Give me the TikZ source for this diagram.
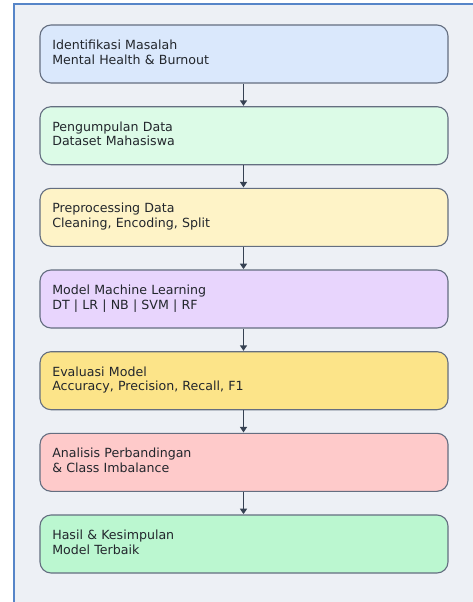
\documentclass[tikz,border=0pt]{standalone}
\usepackage{fontspec}
\setmainfont{DejaVu Sans}
\usetikzlibrary{arrows.meta}
\definecolor{pagebg}{HTML}{EDF0F5}
\definecolor{framecol}{HTML}{5685C8}
\definecolor{edgecol}{HTML}{646E80}
\definecolor{arrowcol}{HTML}{364152}
\definecolor{textcol}{HTML}{22262C}
\definecolor{cBlue}{HTML}{DAE8FC}
\definecolor{cMint}{HTML}{DCFBE7}
\definecolor{cCream}{HTML}{FEF3C7}
\definecolor{cLilac}{HTML}{E8D5FD}
\definecolor{cGold}{HTML}{FCE489}
\definecolor{cRose}{HTML}{FECACA}
\definecolor{cGreen}{HTML}{BBF7D0}
\tikzset{
  stage/.style={draw=edgecol, line width=1.1pt, rounded corners=11pt,
    minimum width=408pt, minimum height=58pt, inner xsep=12.3pt, inner ysep=0pt,
    text width=383.4pt, align=left, text=textcol,
    font=\fontsize{12.6}{14.7}\selectfont},
  flow/.style={draw=arrowcol, line width=1.4pt,
    -{Triangle[width=7pt,length=5.5pt]}, shorten >=0.3pt}
}
\newcommand{\stagetext}[2]{\strut#1\\#2\strut}
\begin{document}
\begin{tikzpicture}[x=1pt,y=1pt]
  \useasboundingbox (0,0) rectangle (472,-602);
  % panel with blue top and left edges
  \fill[pagebg] (13.5,-4.5) rectangle (480,-610);
  \draw[framecol, line width=2pt] (13.5,-610) -- (13.5,-4.5) -- (480,-4.5);
  % stages
  \node[stage, fill=cBlue]  (s1) at (244,-54.0)  {\stagetext{Identifikasi Masalah}{Mental Health \& Burnout}};
  \node[stage, fill=cMint]  (s2) at (244,-135.7) {\stagetext{Pengumpulan Data}{Dataset Mahasiswa}};
  \node[stage, fill=cCream] (s3) at (244,-217.3) {\stagetext{Preprocessing Data}{Cleaning, Encoding, Split}};
  \node[stage, fill=cLilac] (s4) at (244,-299.0) {\stagetext{Model Machine Learning}{DT | LR | NB | SVM | RF}};
  \node[stage, fill=cGold]  (s5) at (244,-380.7) {\stagetext{Evaluasi Model}{Accuracy, Precision, Recall, F1}};
  \node[stage, fill=cRose]  (s6) at (244,-462.3) {\stagetext{Analisis Perbandingan}{\& Class Imbalance}};
  \node[stage, fill=cGreen] (s7) at (244,-544.0) {\stagetext{Hasil \& Kesimpulan}{Model Terbaik}};
  % connectors
  \foreach \a/\b in {s1/s2,s2/s3,s3/s4,s4/s5,s5/s6,s6/s7}
    \draw[flow] ([xshift=-0.5pt]\a.south) -- ([xshift=-0.5pt]\b.north);
\end{tikzpicture}
\end{document}
